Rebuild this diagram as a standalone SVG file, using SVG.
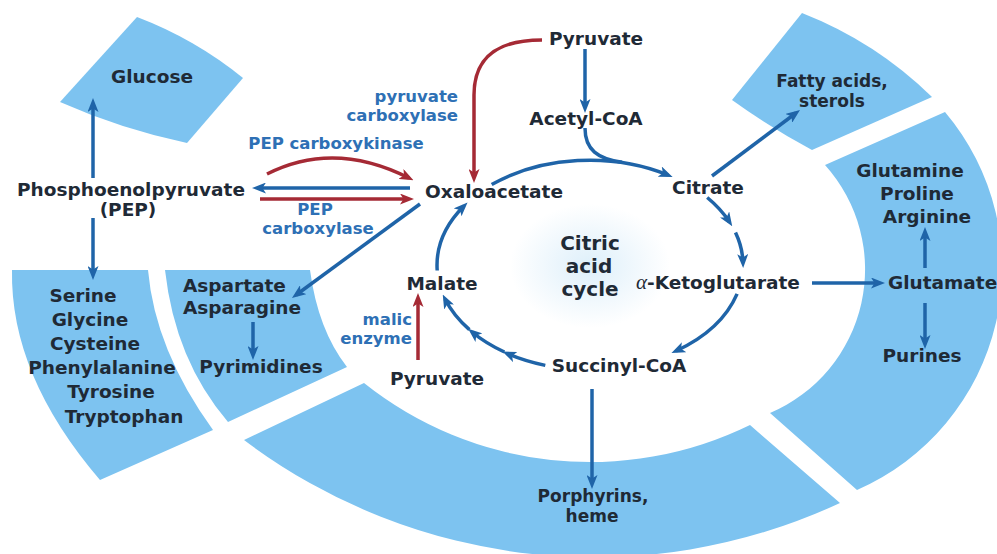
<svg xmlns="http://www.w3.org/2000/svg" width="997" height="554" viewBox="0 0 997 554">
<defs>
<style>
.seg{fill:#7dc3f0}
.t{font-family:"DejaVu Sans","Liberation Sans",sans-serif;font-weight:bold;font-size:18.5px;fill:#1f2a36}
.s{font-size:17px}
.m{text-anchor:middle}
.r{text-anchor:end}
.e{font-family:"DejaVu Sans","Liberation Sans",sans-serif;font-weight:bold;font-size:16.5px;fill:#2e70b5}
.c{font-size:20px}
.b{fill:none;stroke:#1f64a8;stroke-width:3.5;marker-end:url(#ab)}
.rd{fill:none;stroke:#a52a35;stroke-width:3.5;marker-end:url(#ar)}
</style>
<marker id="ab" viewBox="0 0 14 11" refX="9" refY="5.5" markerWidth="14" markerHeight="11" markerUnits="userSpaceOnUse" orient="auto"><path d="M0,0 L14,5.5 L0,11 L3.5,5.5 Z" fill="#1f64a8"/></marker>
<marker id="ar" viewBox="0 0 14 11" refX="9" refY="5.5" markerWidth="14" markerHeight="11" markerUnits="userSpaceOnUse" orient="auto"><path d="M0,0 L14,5.5 L0,11 L3.5,5.5 Z" fill="#a52a35"/></marker>
<radialGradient id="glow" cx="0.5" cy="0.5" r="0.5"><stop offset="0" stop-color="#cfe8f8" stop-opacity="0.7"/><stop offset="1" stop-color="#cfe8f8" stop-opacity="0"/></radialGradient>
</defs>
<rect width="997" height="554" fill="#ffffff"/>
<g id="segments">
<path id="seg-glucose" class="seg" d="M60,102 L137,17 Q195,39 243,78 L187,143 Q121,129 60,102 Z"/>
<path id="seg-fatty" class="seg" d="M732,100 L802,13 Q876,42 932,97 L812,150 Q771,128 732,100 Z"/>
<path id="seg-right" class="seg" d="M825,165 L945,112 A242,242 0 0 1 857,490 L770,413 A156,156 0 0 0 825,165 Z"/>
<path id="seg-bottom" class="seg" d="M364,383 A363,363 0 0 0 750,425 L840,503 A582,582 0 0 1 244,440 Z"/>
<path id="seg-asp" class="seg" d="M165,270 L310,270 Q318,330 347,367 L228,422 Q175,360 165,270 Z"/>
<path id="seg-ser" class="seg" d="M12,270 L148,270 Q155,350 213,430 L100,480 Q10,375 12,270 Z"/>
</g>
<ellipse cx="590" cy="266" rx="80" ry="62" fill="url(#glow)"/>
<g id="connectors">
<path class="b" d="M491.7,184.6 A153,105 0 0 1 668,175"/>
<path fill="none" stroke="#1f64a8" stroke-width="3.5" d="M585,128 C585,150 598,158.8 622,162.3"/>
<path class="b" d="M707.2,197.5 A153,105 0 0 1 729.5,222"/>
<path class="b" d="M735.5,232.6 A153,105 0 0 1 743,263"/>
<path class="b" d="M737.1,293.9 A153,105 0 0 1 676,351"/>
<path class="b" d="M545.3,365.4 A153,105 0 0 1 507,353.5"/>
<path class="b" d="M504.4,352 A153,105 0 0 1 472,332"/>
<path class="b" d="M469.4,329.6 A153,105 0 0 1 445,299"/>
<path class="b" d="M437.2,270.5 A153,105 0 0 1 464,206"/>
<path class="b" d="M585,49 V108"/>
<path class="rd" d="M542,40 C500,40 474,55 474,95 V178"/>
<path class="rd" d="M267,174 Q334,140 409,178"/>
<path class="b" d="M410,188 H257"/>
<path class="rd" d="M260,199 H409"/>
<path class="b" d="M420,204 L296,295"/>
<path class="b" d="M93,178 V103"/>
<path class="b" d="M93,218 V275"/>
<path class="b" d="M253,322 V355"/>
<path class="b" d="M712,176 L796,113"/>
<path class="b" d="M812,283 H880"/>
<path class="b" d="M925,268 V232"/>
<path class="b" d="M925,303 V344"/>
<path class="b" d="M592,389 V484"/>
<path class="rd" d="M418,360 V298"/>
</g>
<g id="node-glucose"><text class="t m" x="152" y="83">Glucose</text></g>
<g id="node-pep"><text class="t m" x="131" y="196">Phosphoenolpyruvate</text><text class="t m" x="128" y="216" font-size="17">(PEP)</text></g>
<g id="node-pyruvate-top"><text class="t m" x="596" y="45">Pyruvate</text></g>
<g id="node-acetylcoa"><text class="t m" x="586" y="125">Acetyl-CoA</text></g>
<g id="node-oaa"><text class="t m" x="494" y="198">Oxaloacetate</text></g>
<g id="node-citrate"><text class="t m" x="708" y="194">Citrate</text></g>
<g id="node-akg"><text class="t" x="636" y="289"><tspan font-family="'Liberation Serif',serif" font-style="italic" font-weight="normal" font-size="21">α</tspan>-Ketoglutarate</text></g>
<g id="node-succinyl"><text class="t m" x="619" y="372">Succinyl-CoA</text></g>
<g id="node-malate"><text class="t m" x="442" y="290">Malate</text></g>
<g id="node-pyruvate-bottom"><text class="t m" x="437" y="385">Pyruvate</text></g>
<g id="node-cycle"><text class="t m c" x="590" y="250">Citric</text><text class="t m c" x="589" y="273">acid</text><text class="t m c" x="590" y="296">cycle</text></g>
<g id="node-fatty"><text class="t s m" x="832" y="87">Fatty acids,</text><text class="t s m" x="832" y="107">sterols</text></g>
<g id="node-glutamine"><text class="t m" x="910" y="177">Glutamine</text><text class="t m" x="917" y="200">Proline</text><text class="t m" x="927" y="223">Arginine</text></g>
<g id="node-glutamate"><text class="t" x="888" y="289">Glutamate</text></g>
<g id="node-purines"><text class="t m" x="922" y="362">Purines</text></g>
<g id="node-porphyrins"><text class="t s m" x="593" y="502">Porphyrins,</text><text class="t s m" x="592" y="522">heme</text></g>
<g id="node-aspartate"><text class="t" x="183" y="292">Aspartate</text><text class="t" x="183" y="314">Asparagine</text></g>
<g id="node-pyrimidines"><text class="t m" x="261" y="373">Pyrimidines</text></g>
<g id="node-aminoacids"><text class="t m" x="83" y="302">Serine</text><text class="t m" x="90" y="326">Glycine</text><text class="t m" x="95" y="350">Cysteine</text><text class="t m" x="102" y="374">Phenylalanine</text><text class="t m" x="111" y="398">Tyrosine</text><text class="t m" x="124" y="423">Tryptophan</text></g>
<g id="enzymes">
<text class="e r" x="458" y="102">pyruvate</text>
<text class="e r" x="458" y="121">carboxylase</text>
<text class="e m" x="336" y="149">PEP carboxykinase</text>
<text class="e m" x="315" y="215">PEP</text>
<text class="e m" x="318" y="234">carboxylase</text>
<text class="e r" x="412" y="325">malic</text>
<text class="e r" x="412" y="344">enzyme</text>
</g>
</svg>
